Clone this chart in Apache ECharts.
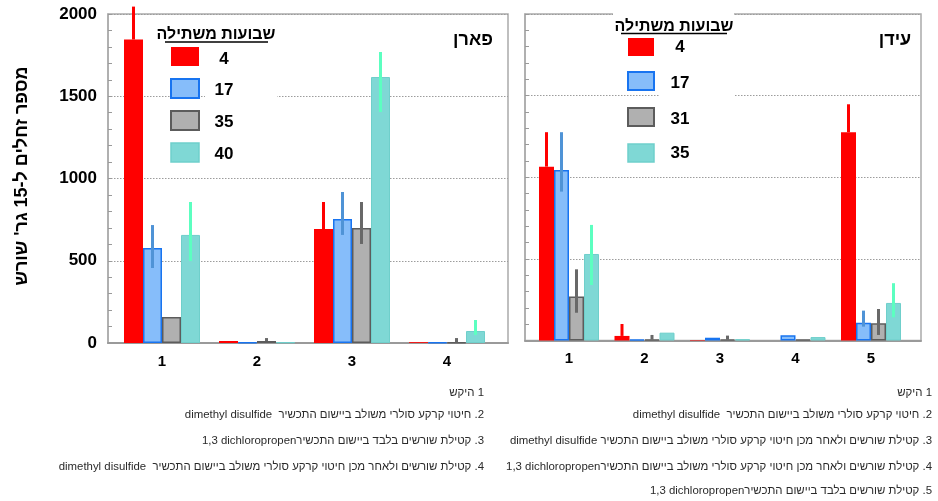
<!DOCTYPE html>
<html>
<head>
<meta charset="utf-8">
<script src="https://cdn.jsdelivr.net/npm/echarts@6/dist/echarts.min.js"></script>
<style>
  html, body { margin: 0; padding: 0; background: #fff; }
  #chart { width: 938px; height: 501px; direction: rtl; }
</style>
</head>
<body>
<div id="chart"></div>
<script>
// ---- data: nematode counts per 15 g root, two sites (Paran, Eden) ----
const categoriesParan = ['1', '2', '3', '4'];
const categoriesEden = ['1', '2', '3', '4', '5'];
const weeksParan = ['4', '17', '35', '40'];
const weeksEden = ['4', '17', '31', '35'];

const paranW4 = [1845, 12, 693, 5];
const paranW17 = [578, 3, 754, 3];
const paranW35 = [158, 12, 699, 3];
const paranW40 = [657, 4, 1617, 73];

const paranErrW4 = [[1845, 2045], null, [693, 857], null];
const paranErrW17 = [[456, 717], null, [657, 918], null];
const paranErrW35 = [null, [12, 30], [602, 857], [3, 30]];
const paranErrW40 = [[498, 857], null, [1404, 1769], [49, 140]];

const edenW4 = [1065, 28, 3, 0, 1276];
const edenW17 = [1045, 5, 17, 32, 109];
const edenW31 = [269, 5, 5, 5, 105];
const edenW35 = [530, 48, 8, 21, 230];

const edenErrW4 = [[1065, 1276], [28, 101], null, null, [1276, 1447]];
const edenErrW17 = [[912, 1276], null, null, null, [85, 183]];
const edenErrW31 = [[170, 436], [5, 34], [5, 30], null, [34, 193]];
const edenErrW35 = [[340, 708], null, null, null, [142, 351]];

const yTicks = [0, 500, 1000, 1500, 2000];

const legendTitle = 'שבועות משתילה';
const yAxisTitle = "מספר זחלים ל-15 גר' שורש";
const titleParan = 'פארן';
const titleEden = 'עידן';

// Latin product names are isolated so they keep their own order inside the RTL lines
const LRI = '\u2066', PDI = '\u2069';
const notesParan = [
  '1 היקש',
  '2. חיטוי קרקע סולרי משולב ביישום התכשיר  ' + LRI + 'dimethyl disulfide' + PDI,
  '3. קטילת שורשים בלבד ביישום התכשיר' + LRI + '1,3 dichloropropen' + PDI,
  '4. קטילת שורשים ולאחר מכן חיטוי קרקע סולרי משולב ביישום התכשיר  ' + LRI + 'dimethyl disulfide' + PDI
];
const notesEden = [
  '1 היקש',
  '2. חיטוי קרקע סולרי משולב ביישום התכשיר  ' + LRI + 'dimethyl disulfide' + PDI,
  '3. קטילת שורשים ולאחר מכן חיטוי קרקע סולרי משולב ביישום התכשיר ' + LRI + 'dimethyl disulfide' + PDI,
  '4. קטילת שורשים ולאחר מכן חיטוי קרקע סולרי משולב ביישום התכשיר' + LRI + '1,3 dichloropropen' + PDI,
  '5. קטילת שורשים בלבד ביישום התכשיר' + LRI + '1,3 dichloropropen' + PDI
];

// ---- styles ----
const FONT = '"Liberation Sans", Arial, sans-serif';
const barStyles = [
  { color: '#ff0000', borderColor: '#ff0000', borderWidth: 0 },
  { color: '#86bdfa', borderColor: '#1874f0', borderWidth: 1.5 },
  { color: '#b0b0b0', borderColor: '#5c5c5c', borderWidth: 1.5 },
  { color: '#7fd8d5', borderColor: '#6fcfcb', borderWidth: 1 }
];
const errColors = ['#ff0000', '#4f93d6', '#686868', '#5cffc0'];
const frameColor = '#ababab';

const panels = [
  {
    cats: categoriesParan, weeks: weeksParan,
    values: [paranW4, paranW17, paranW35, paranW40],
    errors: [paranErrW4, paranErrW17, paranErrW35, paranErrW40],
    frame: { left: 108, top: 14, width: 400, height: 329 },
    bars: { left: 114.5, top: 14, width: 380, height: 329 },
    barWidth: 19, showLabels: true
  },
  {
    cats: categoriesEden, weeks: weeksEden,
    values: [edenW4, edenW17, edenW31, edenW35],
    errors: [edenErrW4, edenErrW17, edenErrW31, edenErrW35],
    frame: { left: 525, top: 14, width: 396, height: 326.5 },
    bars: { left: 531.25, top: 14, width: 377.5, height: 326.5 },
    barWidth: 15, showLabels: false
  }
];

const grid = [], xAxis = [], yAxis = [], series = [];

panels.forEach((p) => {
  const gFrame = grid.length;
  grid.push(Object.assign({ show: true, borderColor: frameColor, borderWidth: 1.5, backgroundColor: 'transparent' }, p.frame));
  const gBars = grid.length;
  grid.push(Object.assign({}, p.bars));

  // frame axes: outline, dotted grid lines, minor ticks, value labels
  xAxis.push({
    gridIndex: gFrame, type: 'category', data: p.cats,
    axisLine: { lineStyle: { color: '#9a9a9a', width: 2 } },
    axisTick: { show: false }, axisLabel: { show: false }, splitLine: { show: false }
  });
  yAxis.push({
    gridIndex: gFrame, type: 'value', min: yTicks[0], max: yTicks[yTicks.length - 1], interval: 500,
    axisLine: { show: true, lineStyle: { color: frameColor, width: 1.5 } },
    axisTick: { show: true, inside: true, length: 4, lineStyle: { color: '#9a9a9a' } },
    minorTick: { show: true, splitNumber: 5, length: 4, lineStyle: { color: '#9a9a9a' } },
    axisLabel: {
      show: p.showLabels, margin: 11, color: '#000',
      fontFamily: FONT, fontWeight: 'bold', fontSize: 17,
      formatter: (v) => String(v)
    },
    splitLine: { show: true, lineStyle: { color: '#9c9c9c', type: [1.5, 1.5], width: 1 } }
  });

  // bar axes: category labels, bars, error bars
  const xb = xAxis.length;
  xAxis.push({
    gridIndex: gBars, type: 'category', data: p.cats,
    axisLine: { show: false }, axisTick: { show: false },
    axisLabel: { margin: 11, color: '#000', fontFamily: FONT, fontWeight: 'bold', fontSize: 15 }
  });
  const yb = yAxis.length;
  yAxis.push({
    gridIndex: gBars, type: 'value', min: yTicks[0], max: yTicks[yTicks.length - 1],
    show: false, splitLine: { show: false }
  });

  p.weeks.forEach((w, si) => {
    series.push({
      type: 'bar', name: w, xAxisIndex: xb, yAxisIndex: yb,
      data: p.values[si], barWidth: p.barWidth, barGap: '0%',
      itemStyle: barStyles[si], silent: true
    });
  });

  p.weeks.forEach((w, si) => {
    const errData = [];
    p.errors[si].forEach((e, ci) => { if (e) errData.push([ci, e[0], e[1]]); });
    const offset = (si - (p.weeks.length - 1) / 2) * p.barWidth;
    series.push({
      type: 'custom', xAxisIndex: xb, yAxisIndex: yb, silent: true, z: 3,
      data: errData,
      renderItem: (params, api) => {
        const lo = api.coord([api.value(0), api.value(1)]);
        const hi = api.coord([api.value(0), api.value(2)]);
        const x = lo[0] + offset;
        return {
          type: 'line',
          shape: { x1: x, y1: lo[1], x2: x, y2: hi[1] },
          style: { stroke: errColors[si], lineWidth: 3 }
        };
      }
    });
  });
});

// ---- legends, titles and notes ----
const elements = [];
function text(t, x, y, opts) {
  elements.push({
    type: 'text', x: x, y: y, z: 110,
    style: Object.assign({ text: t, fill: '#000', font: 'bold 16px ' + FONT, align: 'center', verticalAlign: 'middle' }, opts || {})
  });
}
function rect(x, y, w, h, style, z) {
  elements.push({ type: 'rect', z: z || 100, shape: { x: x, y: y, width: w, height: h }, style: style });
}

const legends = [
  {
    weeks: weeksParan, boxes: [[160, 22, 118, 24], [205, 46, 72, 124]],
    title: [216, 35], underline: [165, 268, 42],
    swX: 171, swY: [47, 79, 111, 143], swW: 28, swH: 19,
    labX: 224, labY: [59, 90, 122, 154]
  },
  {
    weeks: weeksEden, boxes: [[613, 8, 121, 30], [660, 38, 74, 132]],
    title: [674, 27], underline: [621, 727, 33.5],
    swX: 628, swY: [38, 72, 108, 144], swW: 26, swH: 18,
    labX: 680, labY: [47, 83, 119, 153]
  }
];
legends.forEach(L => {
  L.boxes.forEach(b => rect(b[0], b[1], b[2], b[3], { fill: '#fff' }, 100));
  text(legendTitle, L.title[0], L.title[1], { font: 'bold 16px ' + FONT });
  elements.push({
    type: 'line', z: 110,
    shape: { x1: L.underline[0], y1: L.underline[2], x2: L.underline[1], y2: L.underline[2] },
    style: { stroke: '#000', lineWidth: 1.5 }
  });
  L.weeks.forEach((w, i) => {
    const s = barStyles[i];
    rect(L.swX, L.swY[i], L.swW, L.swH, {
      fill: s.color, stroke: s.borderWidth ? s.borderColor : null, lineWidth: s.borderWidth + 0.5
    }, 110);
    text(w, L.labX, L.labY[i], { font: 'bold 17px ' + FONT });
  });
});

text(titleParan, 473, 40, { font: 'bold 18px ' + FONT });
text(titleEden, 895, 40, { font: 'bold 18px ' + FONT });

elements.push({
  type: 'text', x: 22, y: 176, rotation: Math.PI / 2, z: 110,
  style: { text: yAxisTitle, fill: '#000', font: 'bold 18px ' + FONT, align: 'center', verticalAlign: 'middle' }
});

const noteY = [393, 415, 441, 467, 491];
notesParan.forEach((t, i) => text(t, 484, noteY[i], { font: '11.4px ' + FONT, fill: '#2a2a2a', align: 'right' }));
notesEden.forEach((t, i) => text(t, 932, noteY[i], { font: '11.4px ' + FONT, fill: '#2a2a2a', align: 'right' }));

const chart = echarts.init(document.getElementById('chart'), null, { renderer: 'canvas' });
chart.setOption({
  animation: false,
  backgroundColor: '#fff',
  grid: grid, xAxis: xAxis, yAxis: yAxis, series: series,
  graphic: { elements: elements }
});
</script>
</body>
</html>
